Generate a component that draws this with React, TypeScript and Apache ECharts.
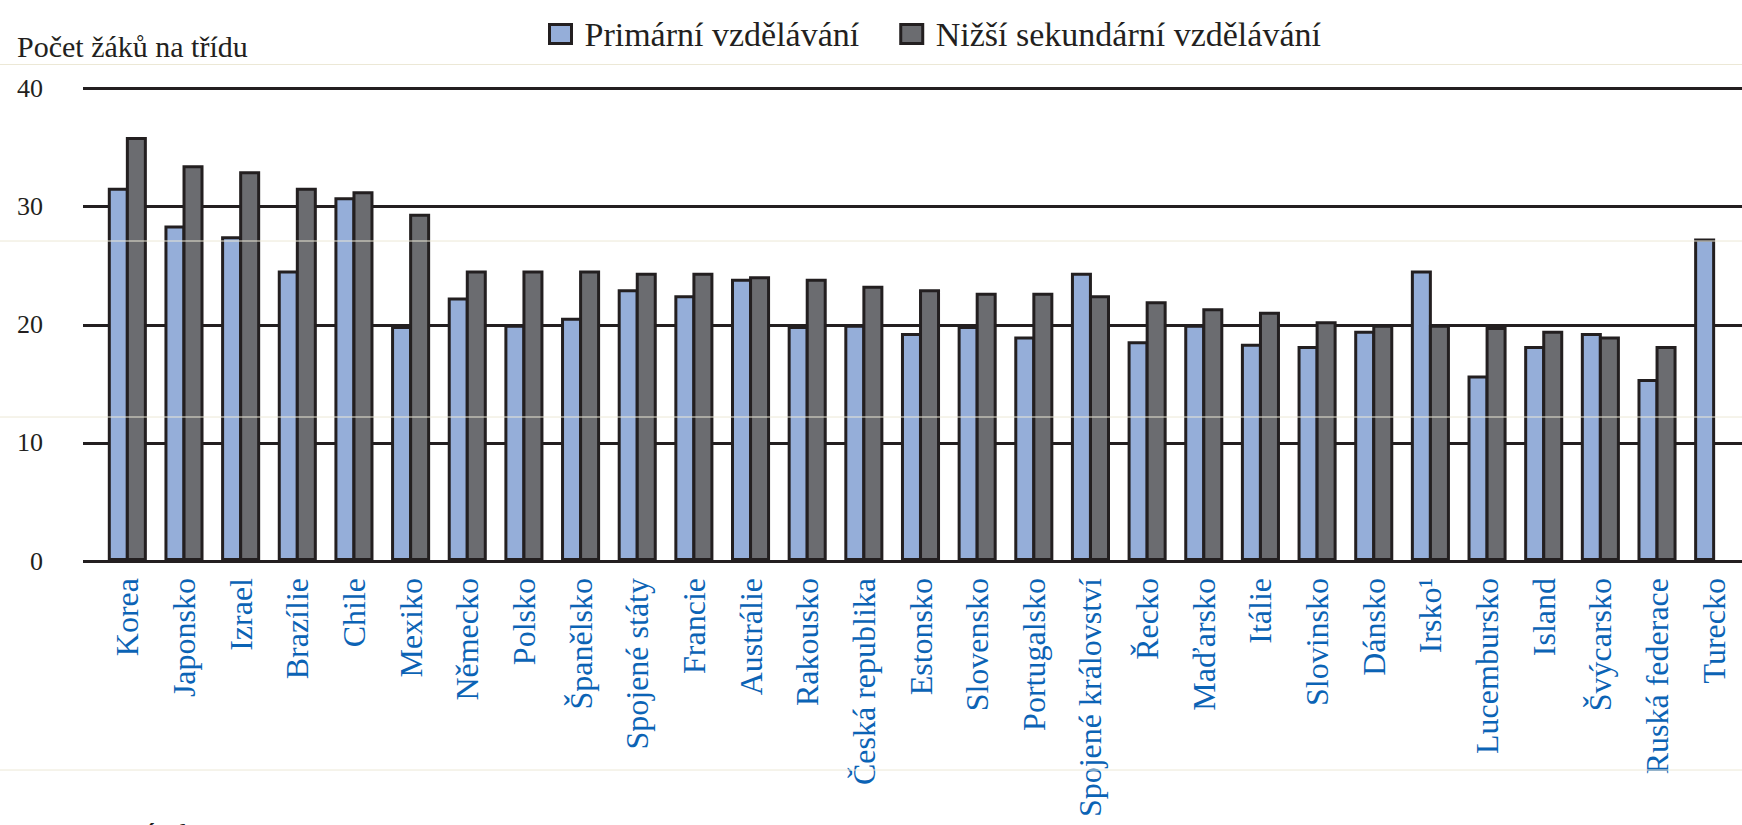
import React, { useEffect, useRef } from "react";
import * as echarts from "echarts";

const categories = [
  "Korea", "Japonsko", "Izrael", "Brazílie", "Chile", "Mexiko", "Německo", "Polsko",
  "Španělsko", "Spojené státy", "Francie", "Austrálie", "Rakousko", "Česká republika",
  "Estonsko", "Slovensko", "Portugalsko", "Spojené království", "Řecko", "Maďarsko",
  "Itálie", "Slovinsko", "Dánsko", "Irsko¹", "Lucembursko", "Island", "Švýcarsko",
  "Ruská federace", "Turecko",
];

const primary = [
  31.6, 28.4, 27.5, 24.6, 30.8, 19.9, 22.3, 20.0,
  20.6, 23.0, 22.5, 23.9, 19.9, 20.0,
  19.3, 19.9, 19.0, 24.4, 18.6, 20.0,
  18.4, 18.2, 19.5, 24.6, 15.7, 18.2, 19.3,
  15.4, 27.3,
];

const lowerSecondary = [
  35.9, 33.5, 33.0, 31.6, 31.3, 29.4, 24.6, 24.6,
  24.6, 24.4, 24.4, 24.1, 23.9, 23.3,
  23.0, 22.7, 22.7, 22.5, 22.0, 21.4,
  21.1, 20.3, 20.0, 20.0, 19.8, 19.5, 19.0,
  18.2, null,
];

const seriesNames = ["Primární vzdělávání", "Nižší sekundární vzdělávání"];
const yTicks = { min: 0, max: 40, interval: 10 };
const yTitle = "Počet žáků na třídu";
const noteText = "Poznámka:";

const INK = "#231f20";
const SERIF = "Liberation Serif, DejaVu Serif, serif";

export default function App() {
  const ref = useRef<HTMLDivElement>(null);

  useEffect(() => {
    if (!ref.current) return;
    const chart = echarts.init(ref.current, undefined, { renderer: "svg" });
    const faint = [64.5, 241, 417, 770].map((y) => ({
      type: "line",
      z: 100,
      shape: { x1: 0, y1: y, x2: 1742, y2: y },
      style: { stroke: "#ece8d6", lineWidth: 1 },
      silent: true,
    }));
    chart.setOption({
      animation: false,
      backgroundColor: "#ffffff",
      title: {
        text: yTitle,
        left: 17,
        top: 31,
        padding: 0,
        textStyle: { fontFamily: SERIF, fontSize: 30, fontWeight: "normal", color: INK },
      },
      legend: {
        left: 543,
        top: 12,
        itemWidth: 22,
        itemHeight: 19,
        itemGap: 40,
        icon: "rect",
        itemStyle: { borderColor: INK, borderWidth: 3 },
        textStyle: { fontFamily: SERIF, fontSize: 34, color: INK, padding: [0, 0, 0, 8] },
        data: seriesNames,
      },
      grid: [
        { left: 83, right: 0, top: 88.5, bottom: 264, containLabel: false },
        { left: 99, width: 1649, top: 88.5, bottom: 264, containLabel: false },
      ],
      xAxis: [
        { type: "category", gridIndex: 0, data: [""], show: false },
        {
          type: "category",
          gridIndex: 1,
          data: categories,
          axisLine: { show: false },
          axisTick: { show: false },
          axisLabel: {
            rotate: 90,
            margin: 17,
            interval: 0,
            color: "#0b63b5",
            fontFamily: SERIF,
            fontSize: 32,
          },
        },
      ],
      yAxis: [
        {
          type: "value",
          gridIndex: 0,
          min: yTicks.min,
          max: yTicks.max,
          interval: yTicks.interval,
          axisLine: { show: false },
          axisTick: { show: false },
          axisLabel: {
            margin: 40,
            color: INK,
            fontFamily: SERIF,
            fontSize: 26,
          },
          splitLine: { show: true, lineStyle: { color: INK, width: 3 } },
        },
        {
          type: "value",
          gridIndex: 1,
          min: yTicks.min,
          max: yTicks.max,
          interval: yTicks.interval,
          show: false,
          splitLine: { show: false },
        },
      ],
      series: [
        {
          name: seriesNames[0],
          type: "bar",
          xAxisIndex: 1,
          yAxisIndex: 1,
          data: primary,
          barWidth: 21,
          barGap: "-14%",
          itemStyle: { color: "#95aed9", borderColor: INK, borderWidth: 3 },
        },
        {
          name: seriesNames[1],
          type: "bar",
          xAxisIndex: 1,
          yAxisIndex: 1,
          data: lowerSecondary,
          barWidth: 21,
          barGap: "-14%",
          itemStyle: { color: "#6b6c70", borderColor: INK, borderWidth: 3 },
        },
      ],
      graphic: [
        ...faint,
        {
          type: "text",
          left: 83,
          top: 818,
          style: { text: noteText, font: `30px ${SERIF}`, fill: INK },
        },
      ],
    });
    return () => chart.dispose();
  }, []);

  return (
    <div
      ref={ref}
      style={{ position: "fixed", left: 0, top: 0, width: 1742, height: 825 }}
    />
  );
}
